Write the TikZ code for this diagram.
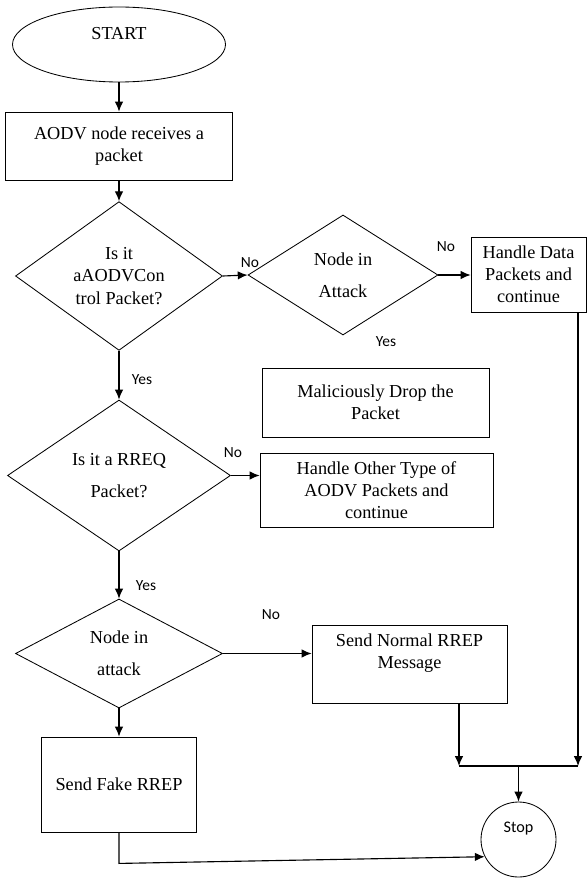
\documentclass[tikz,border=0pt]{standalone}
\usepackage{fontspec}
\setmainfont{Liberation Serif}
\newfontfamily\calibri{Carlito}
\usepackage{tikz}
\usetikzlibrary{arrows.meta,shapes.geometric,positioning}
\tikzstyle{arrow} = [line width=0.8pt,-{Latex[length=7pt,width=6pt]}]
\tikzstyle{line} = [line width=0.8pt]
\tikzstyle{process} = [rectangle, draw, line width=0.6pt, align=center, inner sep=2pt, font=\fontsize{13}{15.5}\selectfont]
\tikzstyle{decision} = [diamond, draw, line width=0.6pt, align=center, inner sep=0pt, font=\fontsize{13}{23}\selectfont]
\tikzstyle{terminal} = [ellipse, draw, line width=0.6pt, font=\fontsize{13}{15.5}\selectfont]
\tikzstyle{answer} = [font=\calibri\fontsize{11}{13}\selectfont]

\begin{document}
\begin{tikzpicture}
\useasboundingbox (0,0) rectangle (14.675,-21.975);

% Start
\node[terminal, minimum width=5.325cm, minimum height=1.875cm, text depth=0.575cm] (start) at (2.975,-1.1125) {START};

% Receive box
\node[process, minimum width=5.675cm, minimum height=1.7cm] (recv) at (2.975,-3.65) {AODV node receives a\\packet};

% First decisions
\node[decision, minimum width=5.175cm, minimum height=3.3cm, font=\fontsize{13}{16}\selectfont] (ctrl) at (2.975,-6.9) {Is it\\aAODVCon\\trol Packet?};
\node[decision, minimum width=4.75cm, minimum height=3cm] (attack) at (8.575,-6.875) {Node in\\Attack};
\node[process, minimum width=2.875cm, minimum height=1.875cm] (data) at (13.2125,-6.8625) {Handle Data\\Packets and\\continue};
\node[process, minimum width=5.675cm, minimum height=1.725cm] (drop) at (9.3875,-10.0625) {Maliciously Drop the\\Packet};

% RREQ check
\node[decision, minimum width=5.575cm, minimum height=3.775cm] (rreq) at (2.975,-11.8875) {Is it a RREQ\\Packet?};
\node[process, minimum width=5.825cm, minimum height=1.85cm] (other) at (9.4125,-12.25) {Handle Other Type of\\AODV Packets and\\continue};

% Attack check
\node[decision, minimum width=5.175cm, minimum height=2.725cm] (inattack) at (2.975,-16.3375) {Node in\\attack};
\node[process, minimum width=4.875cm, minimum height=1.95cm] (normal) at (10.2375,-16.6) {};
\node[font=\fontsize{13}{15.5}\selectfont, align=center] (normaltext) at (10.2375,-16.33) {Send Normal RREP\\Message};
\node[process, minimum width=3.875cm, minimum height=2.375cm] (fake) at (2.975,-19.6125) {Send Fake RREP};

% Stop
\node[circle, draw, line width=0.6pt, minimum size=1.875cm, font=\calibri\fontsize{11.5}{13}\selectfont, text depth=0.6cm] (stop) at (12.9625,-20.9875) {Stop};

% Arrows
\draw[arrow] (start) -- (recv);
\draw[arrow] (recv) -- (ctrl);
\draw[arrow] (ctrl.east) -- (attack.west);
\draw[arrow] (attack.east) -- (attack.east -| data.west);
\draw[arrow] (ctrl) -- (rreq);
\draw[arrow] (rreq.east) -- (rreq.east -| other.west);
\draw[arrow] (rreq) -- (inattack);
\draw[arrow] (inattack.east) -- (inattack.east -| normal.west);
\draw[arrow] (inattack) -- (fake);

% Merge into stop
\coordinate (merge) at (12.9625,-19.15);
\coordinate (normalout) at ([xshift=1.2375cm]normal.south);
\coordinate (dataout) at ([xshift=1.2375cm]data.south);
\draw[arrow] (normalout) -- (normalout |- merge);
\draw[arrow] (dataout) -- (dataout |- merge);
\draw[line] (normalout |- merge) -- (dataout |- merge);
\draw[arrow] (merge) -- (stop);
\draw[arrow] (fake.south) -- ++(0,-0.775) -- (stop.207);

% Yes / No labels
\node[answer] (no1) at (6.25,-6.575) {No};
\node[answer] (no2) at (11.15,-6.175) {No};
\node[answer] (yes1) at (9.65,-8.55) {Yes};
\node[answer] (yes2) at (3.55,-9.5) {Yes};
\node[answer] (no3) at (5.825,-11.325) {No};
\node[answer] (yes3) at (3.65,-14.65) {Yes};
\node[answer] (no4) at (6.775,-15.375) {No};
\end{tikzpicture}
\end{document}
